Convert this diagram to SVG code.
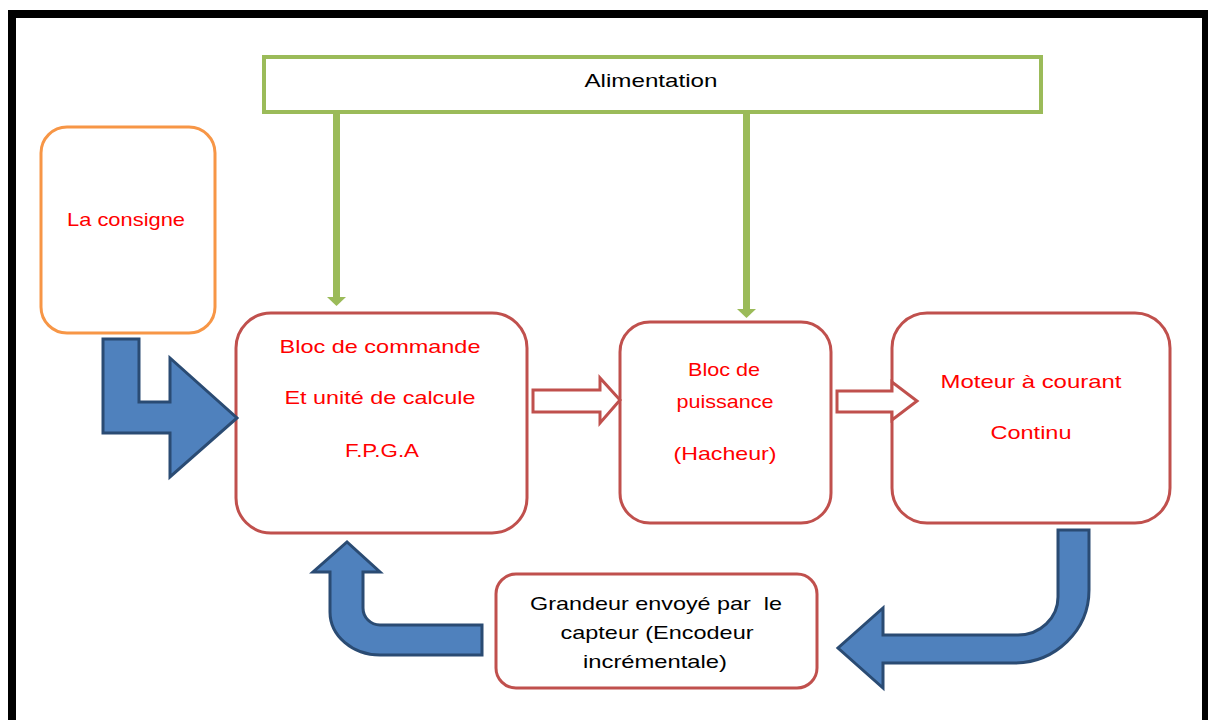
<svg xmlns="http://www.w3.org/2000/svg" width="1208" height="720" viewBox="0 0 1208 720">
  <defs>
    <style>
      .frame { fill: none; stroke: #000; stroke-width: 8; }
      .supply { fill: #fff; stroke: #9BBB59; stroke-width: 4; }
      .feed { fill: none; stroke: #9BBB59; stroke-width: 7; }
      .feedhead { fill: #9BBB59; }
      .setpoint { fill: #fff; stroke: #F79646; stroke-width: 3; }
      .block { fill: #fff; stroke: #C0504D; stroke-width: 3; }
      .hollow { fill: #fff; stroke: #C0504D; stroke-width: 3; stroke-linejoin: miter; }
      .bigarrow { fill: #4F81BD; stroke: #2A4B73; stroke-width: 3; stroke-linejoin: miter; }
      .lbl { font-family: "Liberation Sans", "Open Sans", sans-serif; font-size: 19px; text-anchor: middle; }
      .red { fill: #FF0000; }
      .blk { fill: #000; }
    </style>
  </defs>

  <rect width="1208" height="720" fill="#fff"/>

  <!-- outer frame (top, left, right edges) -->
  <path class="frame" d="M12 720 V14 H1206 V720"/>

  <g id="alimentation">
    <rect class="supply" x="264" y="57" width="777" height="55"/>
    <text class="lbl blk" x="651" y="87" textLength="133" lengthAdjust="spacingAndGlyphs">Alimentation</text>
  </g>

  <g id="consigne">
    <rect class="setpoint" x="41" y="127" width="174" height="206" rx="26"/>
    <text class="lbl red" x="126" y="226" textLength="118" lengthAdjust="spacingAndGlyphs">La consigne</text>
  </g>

  <g id="commande">
    <rect class="block" x="236" y="313" width="291" height="220" rx="35"/>
    <text class="lbl red" x="380" y="353" textLength="201" lengthAdjust="spacingAndGlyphs">Bloc de commande</text>
    <text class="lbl red" x="380" y="404" textLength="191" lengthAdjust="spacingAndGlyphs">Et unité de calcule</text>
    <text class="lbl red" x="382" y="457" textLength="74" lengthAdjust="spacingAndGlyphs">F.P.G.A</text>
  </g>

  <g id="puissance">
    <rect class="block" x="620" y="322" width="211" height="201" rx="30"/>
    <text class="lbl red" x="724" y="376" textLength="72" lengthAdjust="spacingAndGlyphs">Bloc de</text>
    <text class="lbl red" x="725" y="408" textLength="97" lengthAdjust="spacingAndGlyphs">puissance</text>
    <text class="lbl red" x="725" y="460" textLength="103" lengthAdjust="spacingAndGlyphs">(Hacheur)</text>
  </g>

  <g id="moteur">
    <rect class="block" x="892" y="313" width="278" height="210" rx="35"/>
    <text class="lbl red" x="1031" y="388" textLength="181" lengthAdjust="spacingAndGlyphs">Moteur à courant</text>
    <text class="lbl red" x="1031" y="439" textLength="81" lengthAdjust="spacingAndGlyphs">Continu</text>
  </g>

  <g id="capteur">
    <rect class="block" x="496" y="574" width="321" height="114" rx="20"/>
    <text class="lbl blk" x="656" y="610" textLength="252" lengthAdjust="spacingAndGlyphs" xml:space="preserve">Grandeur envoyé par  le</text>
    <text class="lbl blk" x="657" y="639" textLength="193" lengthAdjust="spacingAndGlyphs">capteur (Encodeur</text>
    <text class="lbl blk" x="655" y="668" textLength="144" lengthAdjust="spacingAndGlyphs">incrémentale)</text>
  </g>

  <!-- connectors, drawn over the block outlines -->
  <g id="connectors">
    <!-- supply feeds -->
    <line class="feed" x1="336.5" y1="111" x2="336.5" y2="298"/>
    <polygon class="feedhead" points="327,297 346,297 336.5,306"/>
    <line class="feed" x1="746.5" y1="111" x2="746.5" y2="310"/>
    <polygon class="feedhead" points="737,309 756,309 746.5,318"/>

    <!-- setpoint into control block -->
    <polygon class="bigarrow" points="103,339 139,339 139,402 170,402 170,358 237,418 170,477 170,433 103,433"/>

    <!-- control -> power -> motor -->
    <polygon class="hollow" points="533,390 600,390 600,378 620,400 600,423 600,412 533,412"/>
    <polygon class="hollow" points="837,391 892,391 892,382 917,401 892,420 892,412 837,412"/>

    <!-- motor -> encoder -->
    <path class="bigarrow" d="M1058 530 H1089 V590 A75 73 0 0 1 1014 663 H883 V688 L838 648 L883 608 V635 H1018 A40 38 0 0 0 1058 597 Z"/>

    <!-- encoder -> control block -->
    <path class="bigarrow" d="M482 625 V655 H380 A50 43 0 0 1 330 612 V572 H313 L347 542 L380 572 H363 V608 A17 17 0 0 0 380 625 Z"/>
  </g>
</svg>
